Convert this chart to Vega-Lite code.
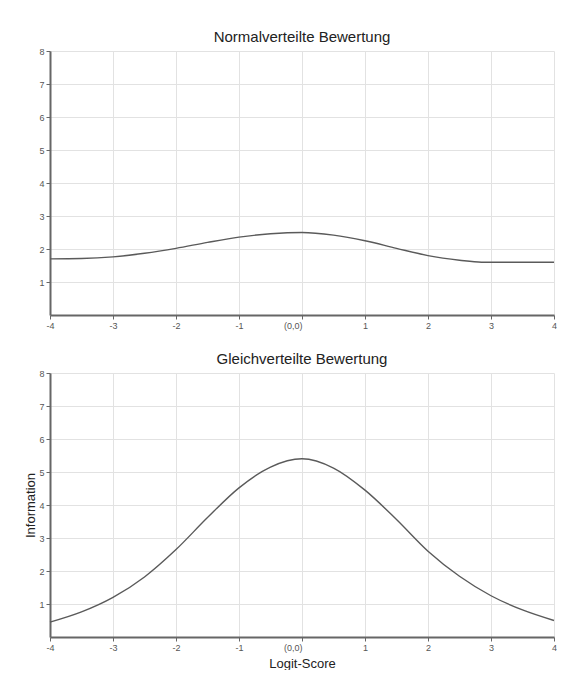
{
  "$schema": "https://vega.github.io/schema/vega-lite/v6.json",
  "background": "white",
  "padding": {"left": 24, "top": 30, "right": 0, "bottom": 0},
  "spacing": 22,
  "datasets": {
    "normal": [
      {"score": -4, "info": 1.70}, {"score": -3.5, "info": 1.71}, {"score": -3, "info": 1.76},
      {"score": -2.5, "info": 1.87}, {"score": -2, "info": 2.02}, {"score": -1.5, "info": 2.20},
      {"score": -1, "info": 2.36}, {"score": -0.5, "info": 2.46}, {"score": 0, "info": 2.50},
      {"score": 0.5, "info": 2.42}, {"score": 1, "info": 2.25}, {"score": 1.5, "info": 2.02},
      {"score": 2, "info": 1.80}, {"score": 2.5, "info": 1.66}, {"score": 2.85, "info": 1.60},
      {"score": 3, "info": 1.60}, {"score": 3.5, "info": 1.60}, {"score": 4, "info": 1.60}
    ],
    "uniform": [
      {"score": -4, "info": 0.45}, {"score": -3.5, "info": 0.76}, {"score": -3, "info": 1.20},
      {"score": -2.5, "info": 1.82}, {"score": -2, "info": 2.65}, {"score": -1.5, "info": 3.62},
      {"score": -1, "info": 4.52}, {"score": -0.5, "info": 5.15}, {"score": 0, "info": 5.40},
      {"score": 0.5, "info": 5.12}, {"score": 1, "info": 4.45}, {"score": 1.5, "info": 3.56},
      {"score": 2, "info": 2.60}, {"score": 2.5, "info": 1.84}, {"score": 3, "info": 1.25},
      {"score": 3.5, "info": 0.82}, {"score": 4, "info": 0.50}
    ]
  },
  "config": {
    "font": "Liberation Sans",
    "view": {"stroke": null},
    "title": {"fontSize": 15, "fontWeight": "normal", "color": "#222222", "offset": 2},
    "axis": {
      "domainColor": "#666666",
      "domainWidth": 2,
      "tickColor": "#666666",
      "tickSize": 4,
      "gridColor": "#e2e2e2",
      "gridWidth": 1,
      "labelFont": "Liberation Sans",
      "labelFontSize": 9,
      "labelColor": "#555555",
      "labelPadding": 2,
      "titleFont": "Liberation Sans",
      "titleFontSize": 13,
      "titleFontWeight": "normal",
      "titleColor": "#222222"
    }
  },
  "vconcat": [
    {
      "title": "Normalverteilte Bewertung",
      "width": 504,
      "height": 264,
      "data": {"name": "normal"},
      "mark": {"type": "line", "color": "#5a5a5a", "strokeWidth": 1.4, "interpolate": "monotone"},
      "encoding": {
        "x": {
          "field": "score", "type": "quantitative",
          "scale": {"domain": [-4, 4], "nice": false},
          "axis": {
            "title": null,
            "values": [-4, -3, -2, -1, 0, 1, 2, 3, 4],
            "labelExpr": "datum.value == 0 ? '(0,0)' : '' + datum.value",
            "labelAlign": {"condition": {"test": "datum.value == 0", "value": "right"}, "value": "center"},
            "labelFlush": false
          }
        },
        "y": {
          "field": "info", "type": "quantitative",
          "scale": {"domain": [0, 8], "nice": false},
          "axis": {"title": null, "values": [1, 2, 3, 4, 5, 6, 7, 8], "labelFlush": false}
        }
      }
    },
    {
      "title": "Gleichverteilte Bewertung",
      "width": 504,
      "height": 264,
      "data": {"name": "uniform"},
      "mark": {"type": "line", "color": "#5a5a5a", "strokeWidth": 1.4, "interpolate": "monotone"},
      "encoding": {
        "x": {
          "field": "score", "type": "quantitative",
          "scale": {"domain": [-4, 4], "nice": false},
          "axis": {
            "title": "Logit-Score",
            "titlePadding": 5,
            "values": [-4, -3, -2, -1, 0, 1, 2, 3, 4],
            "labelExpr": "datum.value == 0 ? '(0,0)' : '' + datum.value",
            "labelAlign": {"condition": {"test": "datum.value == 0", "value": "right"}, "value": "center"},
            "labelFlush": false
          }
        },
        "y": {
          "field": "info", "type": "quantitative",
          "scale": {"domain": [0, 8], "nice": false},
          "axis": {"title": "Information", "titlePadding": 1, "values": [1, 2, 3, 4, 5, 6, 7, 8], "labelFlush": false}
        }
      }
    }
  ]
}
